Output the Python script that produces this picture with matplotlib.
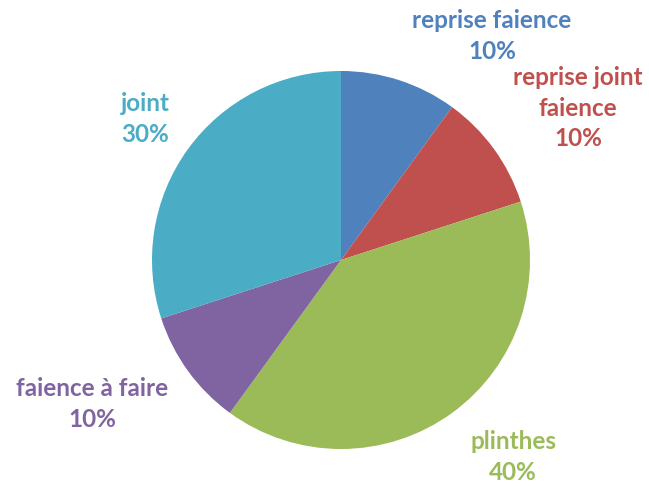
import matplotlib
matplotlib.use("Agg")
import matplotlib.pyplot as plt

labels = ["reprise faience", "reprise joint\nfaience", "plinthes", "faience à faire", "joint"]
values = [10, 10, 40, 10, 30]
colors = ["#4F81BD", "#C0504D", "#9BBB59", "#8064A2", "#4BACC6"]

W, H = 649, 486
fig = plt.figure(figsize=(W / 100, H / 100), dpi=100)
cx, cy, r = 341, 260, 189
ax = fig.add_axes([(cx - r) / W, (H - cy - r) / H, 2 * r / W, 2 * r / H])
ax.pie(values, colors=colors, startangle=90, counterclock=False, radius=1,
       wedgeprops=dict(linewidth=0))
ax.set_xlim(-1, 1)
ax.set_ylim(-1, 1)
ax.set_aspect("equal")
ax.axis("off")

# label block centers in pixels
pos = [(492, 36), (578, 108), (513, 457), (92, 404), (145, 119)]
total = sum(values)
for (px, py), lab, v, c in zip(pos, labels, values, colors):
    txt = f"{lab}\n{round(100 * v / total)}%"
    fig.text(px / W, 1 - py / H, txt, ha="center", va="center", color=c,
             fontsize=17.5, fontweight="bold", family=["Lato", "DejaVu Sans"],
             linespacing=1.38, multialignment="center")

fig.savefig("out.png", dpi=100)
